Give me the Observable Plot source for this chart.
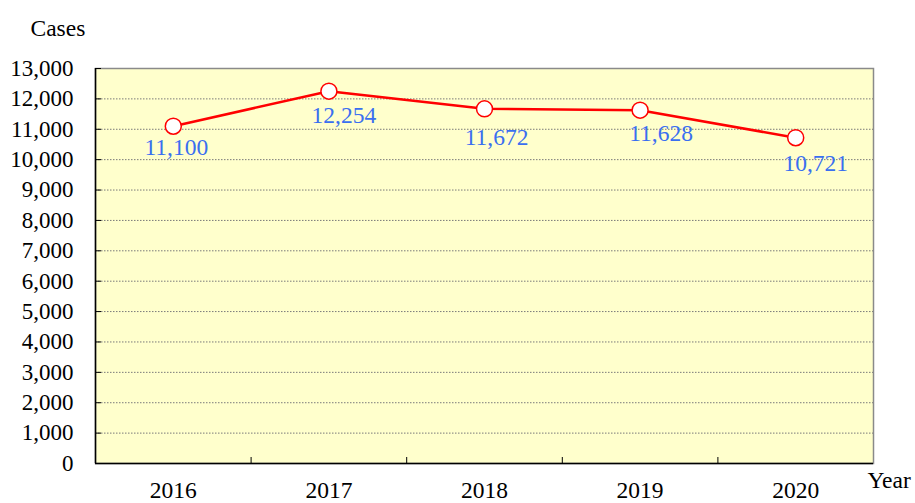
<!DOCTYPE html>
<html>
<head>
<meta charset="utf-8">
<script src="https://cdn.jsdelivr.net/npm/d3@7"></script>
<script src="https://cdn.jsdelivr.net/npm/@observablehq/plot@0.6"></script>
<style>
  html, body { margin: 0; padding: 0; background: #ffffff; }
  #chart svg { display: block; font-family: "Liberation Serif", "Times New Roman", serif; }
</style>
</head>
<body>
<div id="chart"></div>
<script>
const years = [2016, 2017, 2018, 2019, 2020];
const cases = [11100, 12254, 11672, 11628, 10721];
const yTicks = [0, 1000, 2000, 3000, 4000, 5000, 6000, 7000, 8000, 9000, 10000, 11000, 12000, 13000];
const gridValues = [1000, 2000, 3000, 4000, 5000, 6000, 7000, 8000, 9000, 10000, 11000, 12000];
const yearBoundaries = [2016.5, 2017.5, 2018.5, 2019.5];
const yLabel = "Cases";
const xLabel = "Year";
// label offsets (style, px) relative to each point
const labelDx = [3, 15, 12, 21, 20];
const labelDy = [21, 24, 29, 23, 26];

const data = years.map((year, i) => ({year, cases: cases[i]}));
const fmt = d3.format(",");

const chart = Plot.plot({
  width: 915,
  height: 503,
  marginLeft: 95,
  marginRight: 42,
  marginTop: 68,
  marginBottom: 40,
  style: {fontFamily: '"Liberation Serif", "Times New Roman", serif', background: "#ffffff", color: "#000"},
  x: {type: "linear", domain: [2015.5, 2020.5], axis: null},
  y: {domain: [0, 13000], axis: null},
  marks: [
    Plot.frame({fill: "#ffffcc", stroke: "#8a8a8a", strokeWidth: 1.5}),
    Plot.ruleY(gridValues, {stroke: "#7a7a7a", strokeWidth: 1, strokeDasharray: "1.5,1.5"}),
    Plot.ruleX([2015.5], {stroke: "#000", strokeWidth: 1.5}),
    Plot.ruleY([0], {stroke: "#000", strokeWidth: 1.5}),
    Plot.axisY({ticks: yTicks, tickSize: -6, fill: "none", stroke: "#000", label: null}),
    Plot.axisY({ticks: yTicks, tickSize: 0, tickPadding: 22, tickFormat: fmt, fontSize: 23, label: null}),
    Plot.axisX({ticks: yearBoundaries, tickSize: -6, fill: "none", stroke: "#000", label: null}),
    Plot.axisX({ticks: years, tickSize: 0, tickPadding: 18, tickFormat: d => String(d), fontSize: 23.5, label: null}),
    Plot.line(data, {x: "year", y: "cases", stroke: "#ff0000", strokeWidth: 2.5}),
    Plot.dot(data, {x: "year", y: "cases", r: 8, fill: "#ffffff", stroke: "#ff0000", strokeWidth: 1.5}),
    ...data.map((d, i) => Plot.text([d], {x: "year", y: "cases", text: d => fmt(d.cases), dx: labelDx[i], dy: labelDy[i], fill: "#3a6ff0", fontSize: 23.5})),
    Plot.text([yLabel], {frameAnchor: "top-left", dx: -65, dy: -49, textAnchor: "start", fontSize: 23.5, fill: "#000"}),
    Plot.text([xLabel], {frameAnchor: "bottom-right", dx: -6, dy: 24, textAnchor: "start", fontSize: 23.5, fill: "#000"})
  ]
});
document.getElementById("chart").appendChild(chart);
</script>
</body>
</html>
